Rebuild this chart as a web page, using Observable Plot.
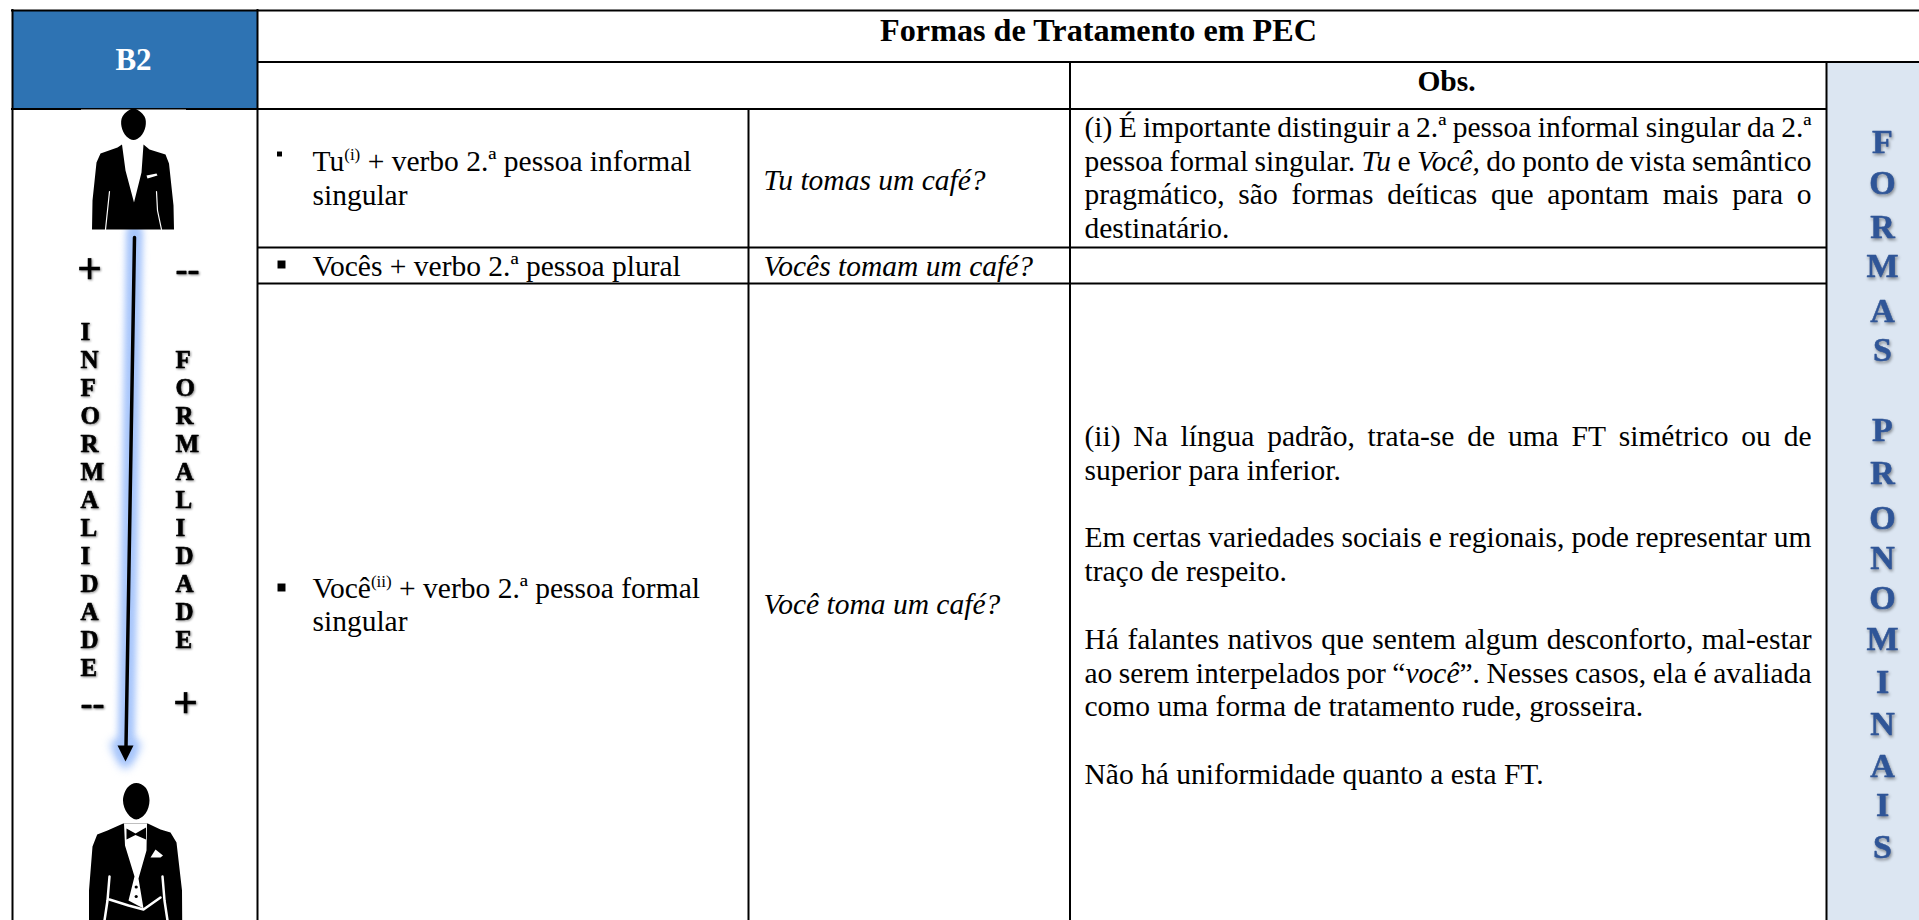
<!DOCTYPE html>
<html lang="pt">
<head>
<meta charset="utf-8">
<style>html,body{margin:0;padding:0;background:#fff;overflow:hidden}svg{display:block}</style>
<script src="https://cdn.jsdelivr.net/npm/d3@7"></script>
<script src="https://cdn.jsdelivr.net/npm/@observablehq/plot@0.6"></script>
</head>
<body>
<div id="chart"></div>
<script>
const serif = "Liberation Serif";
const bodySize = 29.5;

// Table geometry
const filledCells = [
  {x1: 12, x2: 257, y1: 10, y2: 108, color: "#2e73b3"},
  {x1: 1826, x2: 1919, y1: 62, y2: 920, color: "#dce6f2"}
];
const horizontalLines = [
  {y: 10, x1: 11, x2: 1919},
  {y: 61.5, x1: 257, x2: 1919},
  {y: 108.5, x1: 11, x2: 1827},
  {y: 247, x1: 257, x2: 1827},
  {y: 283, x1: 257, x2: 1827}
];
const verticalLines = [
  {x: 12, y1: 9, y2: 920},
  {x: 257, y1: 9, y2: 920},
  {x: 748, y1: 108, y2: 920},
  {x: 1069.5, y1: 61, y2: 920},
  {x: 1826, y1: 61, y2: 920}
];
const headerTexts = [
  {text: "B2", x: 133, y: 69, size: 31, color: "#fff"},
  {text: "Formas de Tratamento em PEC", x: 1098, y: 40, size: 32.2, color: "#000"},
  {text: "Obs.", x: 1446, y: 90, size: 29.5, color: "#000"}
];
const bullets = [
  {x: 279, y: 153.5, size: 2.8},
  {x: 281, y: 264, size: 4.5},
  {x: 281, y: 587, size: 4.5}
];

// Body text lines: runs are roman (r), italic (i) or superscript (s)
const textLines = [
  {x: 312, y: 170, runs: [["r", "Tu"], ["s", "(i)"], ["r", " + verbo 2.ª pessoa informal"]]},
  {x: 312, y: 204, runs: [["r", "singular"]]},
  {x: 312, y: 275, runs: [["r", "Vocês + verbo 2.ª pessoa plural"]]},
  {x: 312, y: 597, runs: [["r", "Você"], ["s", "(ii)"], ["r", " + verbo 2.ª pessoa formal"]]},
  {x: 312, y: 630, runs: [["r", "singular"]]},
  {x: 763, y: 189, runs: [["i", "Tu tomas um café?"]]},
  {x: 763, y: 275, runs: [["i", "Vocês tomam um café?"]]},
  {x: 763, y: 613, runs: [["i", "Você toma um café?"]]},
  {x: 1084, end: 1811, y: 136, runs: [["r", "(i) É importante distinguir a 2.ª pessoa informal singular da 2.ª"]]},
  {x: 1084, end: 1811, y: 170, runs: [["r", "pessoa formal singular. "], ["i", "Tu"], ["r", " e "], ["i", "Você,"], ["r", " do ponto de vista semântico"]]},
  {x: 1084, end: 1811, y: 203, runs: [["r", "pragmático, são formas deíticas que apontam mais para o"]]},
  {x: 1084, y: 237, runs: [["r", "destinatário."]]},
  {x: 1084, end: 1811, y: 445, runs: [["r", "(ii) Na língua padrão, trata-se de uma FT simétrico ou de"]]},
  {x: 1084, y: 479, runs: [["r", "superior para inferior."]]},
  {x: 1084, end: 1811, y: 546, runs: [["r", "Em certas variedades sociais e regionais, pode representar um"]]},
  {x: 1084, y: 580, runs: [["r", "traço de respeito."]]},
  {x: 1084, end: 1811, y: 648, runs: [["r", "Há falantes nativos que sentem algum desconforto, mal-estar"]]},
  {x: 1084, end: 1811, y: 682, runs: [["r", "ao serem interpelados por “"], ["i", "você"], ["r", "”. Nesses casos, ela é avaliada"]]},
  {x: 1084, y: 715, runs: [["r", "como uma forma de tratamento rude, grosseira."]]},
  {x: 1084, y: 783, runs: [["r", "Não há uniformidade quanto a esta FT."]]}
];

// Vertical lettering
const informalLetters = [..."INFORMALIDADE"];
const informalRows = informalLetters.map((_, i) => 339 + 28 * i);
const formalLetters = [..."FORMALIDADE"];
const formalRows = formalLetters.map((_, i) => 367 + 28 * i);
const panelWordOne = [..."FORMAS"];
const panelWordOneRows = [152, 193, 237, 276, 321, 360];
const panelWordTwo = [..."PRONOMINAIS"];
const panelWordTwoRows = [440, 483, 528, 568, 608, 649, 692, 734, 776, 815, 857];
const signs = [
  {text: "+", x: 89, y: 282, size: 44},
  {text: "--", x: 187, y: 280, size: 36},
  {text: "--", x: 92, y: 714, size: 36},
  {text: "+", x: 185, y: 716, size: 44}
];

// Arrow
const arrowShaft = [{x: 134, y: 237}, {x: 125.5, y: 746}];
const arrowGlow = [{x: 134, y: 232}, {x: 125.5, y: 752}];
const arrowHead = [{x: 117, y: 745}, {x: 133, y: 745}, {x: 125, y: 761}];

// Silhouettes
const topHead = [{x: 133, y: 108}, {x: 144, y: 116}, {x: 145, y: 126}, {x: 140, y: 136}, {x: 133, y: 139.5}, {x: 126, y: 136}, {x: 121, y: 126}, {x: 122, y: 116}];
const topBody = [
  {x: 121.5, y: 144}, {x: 125, y: 170}, {x: 133.5, y: 202}, {x: 141, y: 172}, {x: 143, y: 144},
  {x: 149, y: 149}, {x: 165, y: 154}, {x: 168.5, y: 163}, {x: 173, y: 205}, {x: 173.5, y: 229},
  {x: 91.5, y: 229}, {x: 92, y: 200}, {x: 96, y: 162}, {x: 100, y: 153}, {x: 117, y: 147}
];
const topPocket = [{x: 146, y: 175}, {x: 156, y: 173}, {x: 157, y: 175}, {x: 147, y: 178}];
const topSeams = [
  [{x: 109, y: 191}, {x: 107, y: 210}, {x: 105, y: 229}],
  [{x: 156, y: 191}, {x: 157, y: 210}, {x: 161, y: 229}]
];
const lowerHead = [{x: 135.7, y: 782.5}, {x: 145, y: 787}, {x: 149, y: 800}, {x: 145, y: 813}, {x: 135.7, y: 819}, {x: 127, y: 813}, {x: 122.5, y: 800}, {x: 127, y: 787}];
const lowerBody = [
  {x: 122.7, y: 823}, {x: 107, y: 830}, {x: 96.7, y: 834}, {x: 92, y: 846}, {x: 88.5, y: 890}, {x: 88.5, y: 920},
  {x: 181.7, y: 920}, {x: 181.5, y: 890}, {x: 176, y: 842}, {x: 170, y: 832}, {x: 160, y: 829}, {x: 147.3, y: 823}
];
const lowerShirt = [
  {x: 123.5, y: 823}, {x: 124.5, y: 845}, {x: 134, y: 876}, {x: 128, y: 900}, {x: 143, y: 908}, {x: 138, y: 878}, {x: 146, y: 850}, {x: 146.5, y: 823}
];
const lowerBand = [{x: 109, y: 899}, {x: 128, y: 905}, {x: 143, y: 909}, {x: 160, y: 897}];
const lowerSeams = [
  [{x: 109, y: 876}, {x: 107, y: 900}, {x: 104, y: 920}],
  [{x: 162, y: 876}, {x: 164, y: 900}, {x: 167, y: 920}]
];
const lowerPocket = [{x: 150, y: 857}, {x: 155, y: 849}, {x: 162.5, y: 855}, {x: 160, y: 857}];
const bowTie = [{x: 126, y: 828}, {x: 135, y: 833}, {x: 145.5, y: 827}, {x: 145.5, y: 839}, {x: 135, y: 834.5}, {x: 126, y: 839}];
const shirtButtons = [{x: 135.7, y: 886.5}, {x: 135.7, y: 896}];
const lineCover = [{y: 109.5, x1: 81, x2: 186}];

// Lay the runs out into word positions (justifying lines that have an end)
const ctx = document.createElement("canvas").getContext("2d");
const supSize = 17;
const fontOf = (kind) => `${kind === "i" ? "italic " : ""}${kind === "s" ? supSize : bodySize}px "${serif}"`;
const widthOf = (text, kind) => { ctx.font = fontOf(kind); return ctx.measureText(text).width; };
const words = [];
for (const line of textLines) {
  const tokens = [];
  for (const [kind, text] of line.runs) {
    for (const piece of text.split(/(\s+)/)) {
      if (piece === "") continue;
      if (/^\s+$/.test(piece)) tokens.push({space: true});
      else tokens.push({text: piece, kind, width: widthOf(piece, kind)});
    }
  }
  const spaces = tokens.filter((t) => t.space).length;
  const natural = d3.sum(tokens, (t) => t.width || 0);
  const gap = line.end ? (line.end - line.x - natural) / spaces : bodySize * 0.25;
  let cursor = line.x;
  for (const t of tokens) {
    if (t.space) { cursor += gap; continue; }
    words.push({text: t.text, kind: t.kind, x: cursor, y: t.kind === "s" ? line.y - 11 : line.y});
    cursor += t.width;
  }
}
const roman = words.filter((w) => w.kind === "r");
const italic = words.filter((w) => w.kind === "i");
const superscript = words.filter((w) => w.kind === "s");
const shadow = "drop-shadow(1px 1.5px 1px rgba(0,0,0,.45))";
const blob = (data, fill, extra = {}) => Plot.line(data, {x: "x", y: "y", curve: "catmull-rom-closed", fill, stroke: null, ...extra});
const shape = (data, fill) => Plot.line([...data, data[0]], {x: "x", y: "y", curve: "linear", fill, stroke: null});
const seam = (data, strokeWidth = 1.2) => Plot.line(data, {x: "x", y: "y", curve: "linear", stroke: "#fff", strokeWidth});
const heavyBlack = {fontSize: 25, fontWeight: "bold", textAnchor: "start", lineAnchor: "bottom", fill: "#000", stroke: "#000", strokeWidth: 0.6, imageFilter: shadow};
const heavyBlue = {x: 1882, text: (d) => d, fontSize: 34, fontWeight: "bold", textAnchor: "middle", lineAnchor: "bottom", fill: "#2f5597", stroke: "#2f5597", strokeWidth: 0.5, imageFilter: "drop-shadow(1px 2px 1.5px rgba(0,0,0,.4))"};

const chart = Plot.plot({
  width: 1919,
  height: 920,
  margin: 0,
  x: {domain: [0, 1919], range: [0, 1919], axis: null},
  y: {domain: [0, 920], range: [0, 920], axis: null},
  r: {type: "identity"},
  style: {background: "#fff", fontFamily: serif},
  marks: [
    Plot.rect(filledCells, {x1: "x1", x2: "x2", y1: "y1", y2: "y2", fill: "color"}),
    Plot.ruleY(horizontalLines, {y: "y", x1: "x1", x2: "x2", stroke: "#000", strokeWidth: 2}),
    Plot.ruleX(verticalLines, {x: "x", y1: "y1", y2: "y2", stroke: "#000", strokeWidth: 2}),
    Plot.ruleY(lineCover, {y: "y", x1: "x1", x2: "x2", stroke: "#fff", strokeWidth: 1}),
    Plot.text(headerTexts, {x: "x", y: "y", text: "text", fontSize: "size", fill: "color", fontWeight: "bold", lineAnchor: "bottom", textAnchor: "middle"}),
    Plot.dot(bullets, {x: "x", y: "y", r: "size", symbol: "square", fill: "#000", stroke: null}),
    Plot.text(roman, {x: "x", y: "y", text: "text", fontSize: bodySize, textAnchor: "start", lineAnchor: "bottom", fill: "#000"}),
    Plot.text(italic, {x: "x", y: "y", text: "text", fontSize: bodySize, fontStyle: "italic", textAnchor: "start", lineAnchor: "bottom", fill: "#000"}),
    Plot.text(superscript, {x: "x", y: "y", text: "text", fontSize: supSize, textAnchor: "start", lineAnchor: "bottom", fill: "#000"}),
    Plot.text(informalLetters, {x: 80, y: (_, i) => informalRows[i], text: (d) => d, ...heavyBlack}),
    Plot.text(formalLetters, {x: 175, y: (_, i) => formalRows[i], text: (d) => d, ...heavyBlack}),
    Plot.text(signs, {x: "x", y: "y", text: "text", fontSize: "size", fontWeight: "bold", textAnchor: "middle", lineAnchor: "bottom", fill: "#000", stroke: "#000", strokeWidth: 0.5, imageFilter: shadow}),
    Plot.text(panelWordOne, {y: (_, i) => panelWordOneRows[i], ...heavyBlue}),
    Plot.text(panelWordTwo, {y: (_, i) => panelWordTwoRows[i], ...heavyBlue}),
    Plot.line(arrowGlow, {x: "x", y: "y", stroke: "#a8c6fb", strokeWidth: 17, imageFilter: "blur(3px)"}),
    Plot.line([...arrowHead, arrowHead[0]], {x: "x", y: "y", fill: "#a8c6fb", stroke: "#a8c6fb", strokeWidth: 14, imageFilter: "blur(4px)"}),
    Plot.line(arrowShaft, {x: "x", y: "y", stroke: "#000", strokeWidth: 3.5}),
    shape(arrowHead, "#000"),
    blob(topHead, "#000"),
    shape(topBody, "#000"),
    shape(topPocket, "#fff"),
    ...topSeams.map((s) => seam(s)),
    blob(lowerHead, "#000"),
    shape(lowerBody, "#000"),
    shape(lowerShirt, "#fff"),
    shape(bowTie, "#000"),
    shape(lowerPocket, "#fff"),
    seam(lowerBand, 2.5),
    ...lowerSeams.map((s) => seam(s, 2.5)),
    Plot.dot(shirtButtons, {x: "x", y: "y", r: 1.6, fill: "#000", stroke: null})
  ]
});
document.getElementById("chart").append(chart);
</script>
</body>
</html>
